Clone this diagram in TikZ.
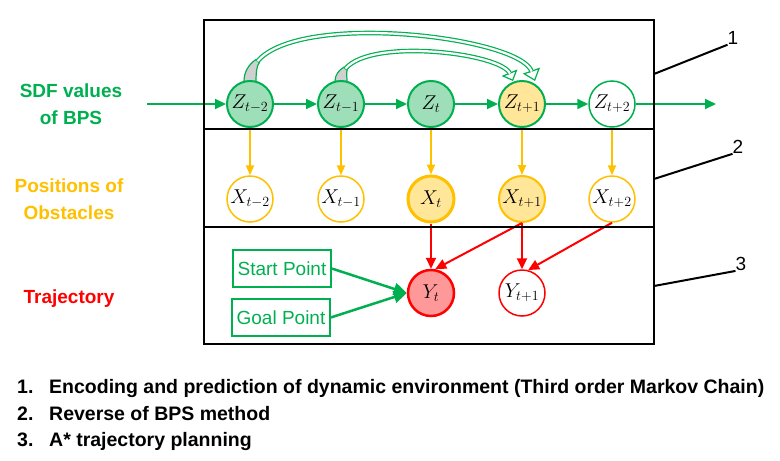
\RequirePackage{fix-cm}
\documentclass[tikz,border=0pt]{standalone}
\usepackage[no-math]{fontspec}
\setmainfont{Liberation Sans}
\usetikzlibrary{arrows.meta,calc,backgrounds}
\definecolor{pgreen}{HTML}{00B050}
\definecolor{pgold}{HTML}{FFC000}
\definecolor{pred}{HTML}{FF0000}
\definecolor{zfill}{HTML}{9EDFB9}
\definecolor{xfill}{HTML}{FFE699}
\definecolor{yfill}{HTML}{FF9999}
\definecolor{bandgray}{HTML}{D0D0D0}
\tikzset{
state/.style={circle, minimum size=46pt, inner sep=0pt, font=\fontsize{20}{24}\selectfont},
zstate/.style={state, draw=pgreen, line width=2pt, fill=zfill},
xstate/.style={state, draw=pgold, line width=1.5pt, fill=white},
ystate/.style={state, draw=pred, line width=1.5pt, fill=white},
frame/.style={line width=2pt},
zarrow/.style={pgreen, line width=2pt, -{Triangle[length=11pt,width=10pt]}},
xarrow/.style={pgold, line width=2pt, -{Triangle[length=10pt,width=8pt]}},
yarrow/.style={pred, line width=2pt, -{Triangle[length=11pt,width=10pt]}},
parrow/.style={pgreen, line width=2.5pt, -{Triangle[length=13pt,width=12pt]}},
pointbox/.style={draw=pgreen, line width=1.5pt, text=pgreen, minimum width=98pt, minimum height=37pt, inner sep=0pt, font=\fontsize{19}{22}\selectfont},
sidelabel/.style={align=center, inner sep=0pt, font=\bfseries\fontsize{19}{27}\selectfont},
listitem/.style={anchor=base west, inner sep=0pt, font=\bfseries\fontsize{19.5}{22}\selectfont},
band/.style={pgreen, line width=1.2pt, double=white, double distance=2.2pt},
foot/.style={draw=pgreen, fill=bandgray, line width=1.2pt}
}
\begin{document}
\begin{tikzpicture}[x=1pt,y=-1pt]
\useasboundingbox (0,0) rectangle (780,461);
\node[sidelabel, text=pgreen] (sdf) at (71,104.5) {SDF values\\of BPS};
\node[sidelabel, text=pgold] (pos) at (69,199.5) {Positions of\\Obstacles};
\node[sidelabel, text=pred] (traj) at (69,299) {Trajectory};

\node[zstate] (zm2) at (250,104) {$Z_{t-2}$};
\node[zstate] (zm1) at (341,104) {$Z_{t-1}$};
\node[zstate] (z0) at (431,104) {$Z_{t}$};
\node[zstate, fill=xfill] (zp1) at (522,104) {$Z_{t+1}$};
\node[zstate, fill=white, line width=1.5pt] (zp2) at (612,104) {$Z_{t+2}$};

\node[xstate] (xm2) at (250,199) {$X_{t-2}$};
\node[xstate] (xm1) at (341,199) {$X_{t-1}$};
\node[xstate, fill=xfill, line width=3pt] (x0) at (431,199) {$X_{t}$};
\node[xstate, fill=xfill, line width=2pt] (xp1) at (522,199) {$X_{t+1}$};
\node[xstate] (xp2) at (612,199) {$X_{t+2}$};

\node[ystate, fill=yfill, line width=2.5pt] (y0) at (431,293) {$Y_{t}$};
\node[ystate] (yp1) at (522,293) {$Y_{t+1}$};

\node[pointbox] (start) at (282,268.5) {Start Point};
\node[pointbox] (goal) at (281,317.5) {Goal Point};

\coordinate (sdfin) at (147,104);
\coordinate (sdfout) at (716,104);
\coordinate (k1) at (257.5,61.2);
\coordinate (k2) at (345.5,68.7);
\coordinate (t1) at (535,81);
\coordinate (t2) at (513,81);

\draw[zarrow] (sdfin) -- (zm2);
\draw[zarrow] (zm2) -- (zm1);
\draw[zarrow] (zm1) -- (z0);
\draw[zarrow] (z0) -- (zp1);
\draw[zarrow] (zp1) -- (zp2);
\draw[zarrow] (zp2) -- (sdfout);

\draw[xarrow] (zm2) -- (xm2);
\draw[xarrow] (zm1) -- (xm1);
\draw[xarrow] (z0) -- (x0);
\draw[xarrow] (zp1) -- (xp1);
\draw[xarrow] (zp2) -- (xp2);

\draw[yarrow] (x0) -- (y0);
\draw[yarrow] (xp1.south) -- (y0.80);
\draw[yarrow] (xp1) -- (yp1);
\draw[yarrow] (xp2.south) -- (yp1.75);

\draw[parrow] (start.east) -- (y0.west);
\draw[parrow] (goal.east) -- (y0.west);

\begin{scope}[on background layer]
\path[foot] ($(zm2.north)+(-6,1)$) .. controls (244,72) and (249,64) .. (255.8,59.7) -- (259.3,62.7) .. controls (257,65) and (256,72) .. ($(zm2.north)+(6,1)$);
\path[foot] ($(zm1.north)+(-6,1)$) .. controls (335,75) and (339,70) .. (343.7,67.3) -- (347.2,70.2) .. controls (346,72) and (347,76) .. ($(zm1.north)+(6,1)$);
\draw[white, line width=1.2pt, -{Triangle[length=11pt,width=18pt,color=pgreen,fill=white]}] (k1) .. controls (301.1,10.6) and (519.7,36.9) .. (t1);
\draw[white, line width=1.2pt, -{Triangle[length=9pt,width=17pt,color=pgreen,fill=white]}] (k2) .. controls (371.3,37.4) and (501.3,53.1) .. (t2);
\draw[band, shorten >=10pt] (k1) .. controls (301.1,10.6) and (519.7,36.9) .. (t1);
\draw[band, shorten >=8pt] (k2) .. controls (371.3,37.4) and (501.3,53.1) .. (t2);
\end{scope}

\draw[frame] (204,20) rectangle (654,344);
\draw[frame] (204,129) -- (654,129);
\draw[frame] (204,227) -- (654,227);

\node[inner sep=0pt, font=\fontsize{19}{22}\selectfont] (n1) at (733,38) {1};
\node[inner sep=0pt, font=\fontsize{19}{22}\selectfont] (n2) at (738,147) {2};
\node[inner sep=0pt, font=\fontsize{19}{22}\selectfont] (n3) at (741,264) {3};
\draw[frame] (654,74) -- (n1.south west);
\draw[frame] (654,179) -- (n2.south west);
\draw[frame] (654,286) -- (n3.south west);

\node[listitem] (l1) at (17,393.5) {\makebox[32pt][l]{1.}Encoding and prediction of dynamic environment (Third order Markov Chain)};
\node[listitem] (l2) at (17,420) {\makebox[32pt][l]{2.}Reverse of BPS method};
\node[listitem] (l3) at (17,446.5) {\makebox[32pt][l]{3.}A* trajectory planning};
\end{tikzpicture}
\end{document}
